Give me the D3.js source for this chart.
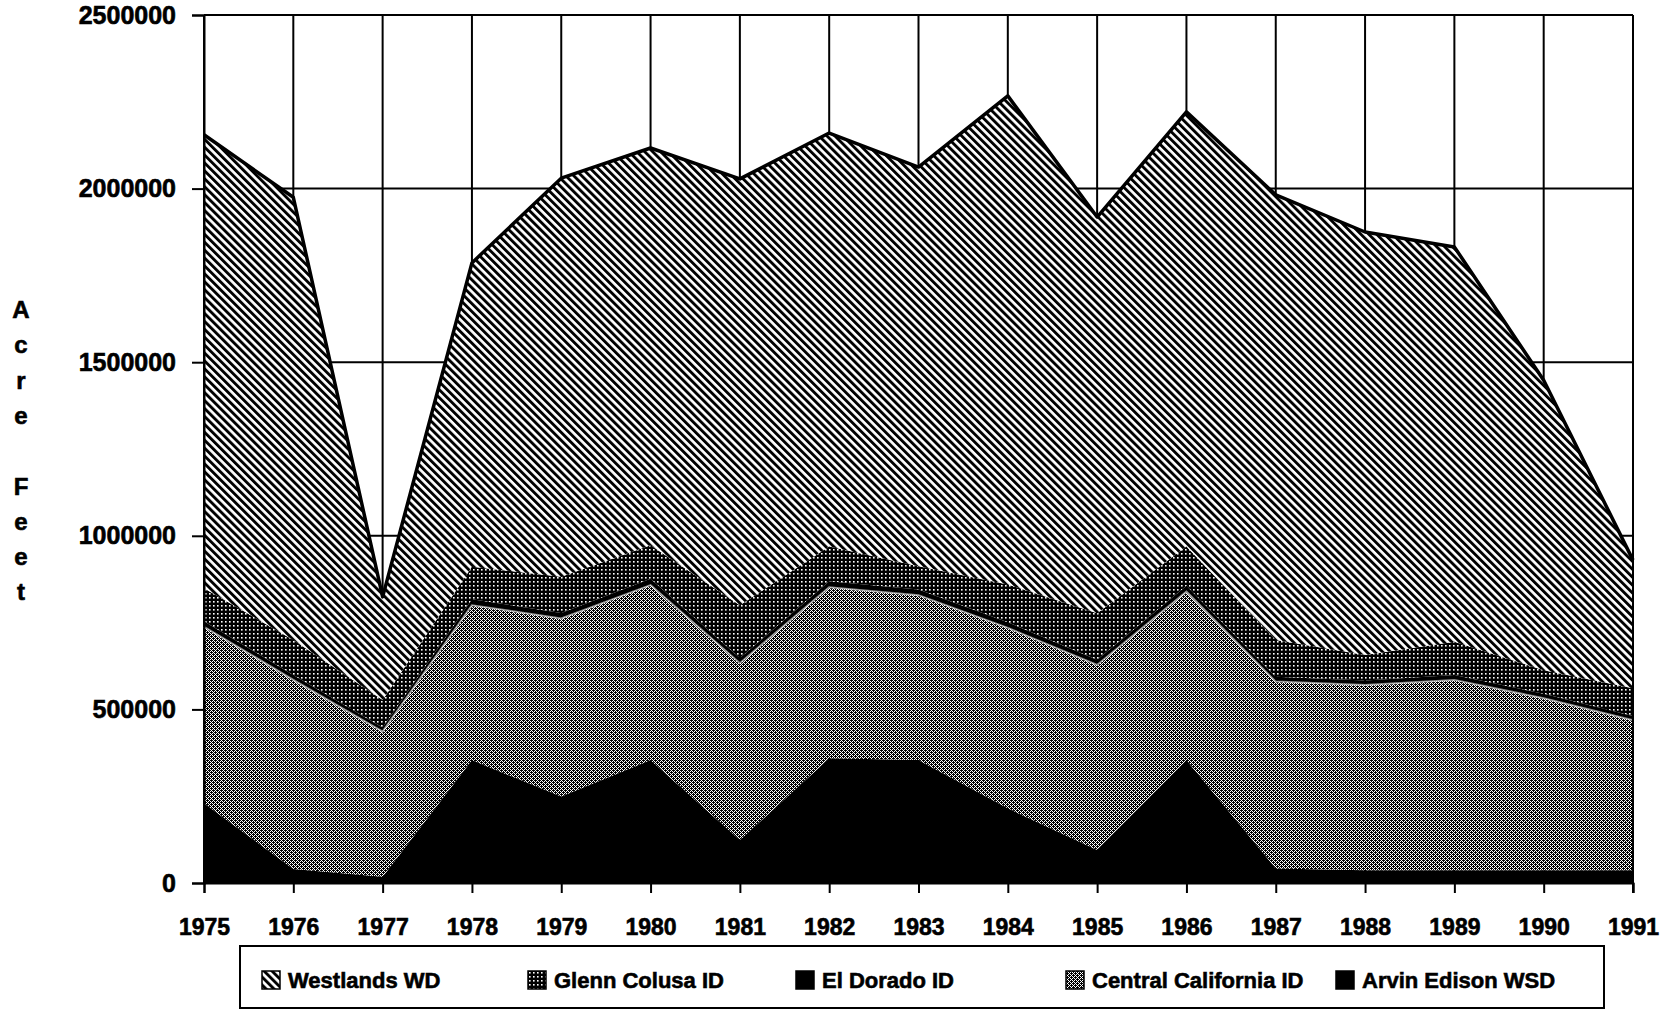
<!DOCTYPE html>
<html>
<head>
<meta charset="utf-8">
<script src="https://cdn.jsdelivr.net/npm/d3@7"></script>
<style>
  html, body { margin: 0; padding: 0; background: #fff; }
  svg { display: block; }
  text { font-family: "Liberation Sans", Arial, Helvetica, sans-serif; font-weight: 700; fill: #000; stroke: #000; stroke-width: 0.6px; }
</style>
</head>
<body>
<svg id="chart" width="1674" height="1014"></svg>
<script>
// Water deliveries (acre-feet) to five CVP districts, 1975-1991
const years = [1975, 1976, 1977, 1978, 1979, 1980, 1981, 1982, 1983, 1984, 1985, 1986, 1987, 1988, 1989, 1990, 1991];

const westlandsWD         = [1306000, 1275000, 297000, 875000, 1148000, 1144000, 1228000, 1191000, 1150000, 1407000, 1141000, 1252000, 1282000, 1218000, 1137000, 835000, 369000];
const glennColusaID       = [95000, 101000, 79000, 94000, 104000, 97000, 152000, 100000, 67000, 109000, 134000, 113000, 106000, 74000, 96000, 68000, 80000];
const elDoradoID          = [16000, 14000, 12000, 17000, 16000, 18000, 15000, 17000, 16000, 16000, 15000, 17000, 14000, 13000, 14000, 13000, 12000];
const centralCaliforniaID = [508000, 545000, 418000, 446000, 513000, 504000, 509000, 493000, 475000, 520000, 533000, 485000, 538000, 533000, 548000, 495000, 432000];
const arvinEdisonWSD      = [230000, 40000, 18000, 354000, 249000, 354000, 124000, 359000, 354000, 215000, 95000, 354000, 42000, 37000, 37000, 37000, 37000];

const yTicks = [0, 500000, 1000000, 1500000, 2000000, 2500000];
const yTitle = ["A", "c", "r", "e", "", "F", "e", "e", "t"];

// Stack order, bottom to top
const seriesKeys = ["Arvin Edison WSD", "Central California ID", "El Dorado ID", "Glenn Colusa ID", "Westlands WD"];
const seriesValues = {
  "Westlands WD": westlandsWD,
  "Glenn Colusa ID": glennColusaID,
  "El Dorado ID": elDoradoID,
  "Central California ID": centralCaliforniaID,
  "Arvin Edison WSD": arvinEdisonWSD
};
// Legend reads top layer first
const legendOrder = ["Westlands WD", "Glenn Colusa ID", "El Dorado ID", "Central California ID", "Arvin Edison WSD"];

const table = years.map((yr, i) => {
  const row = { year: yr };
  seriesKeys.forEach(k => { row[k] = seriesValues[k][i]; });
  return row;
});

const svg = d3.select("#chart");
svg.append("rect").attr("width", 1674).attr("height", 1014).attr("fill", "#fff");

const plot = { left: 204, right: 1633, top: 15, bottom: 883 };
const x = d3.scaleLinear().domain([1975, 1991]).range([plot.left, plot.right]);
const y = d3.scaleLinear().domain([0, 2500000]).range([plot.bottom, plot.top]);

// Fill patterns in the style of a monochrome print
const defs = svg.append("defs");

const hatch = defs.append("pattern").attr("id", "pat-westlands")
  .attr("patternUnits", "userSpaceOnUse").attr("width", 5.6).attr("height", 5.6)
  .attr("patternTransform", "rotate(-45)");
hatch.append("rect").attr("width", 5.6).attr("height", 5.6).attr("fill", "#fff");
hatch.append("rect").attr("width", 2.9).attr("height", 5.6).attr("fill", "#000");

const dots = defs.append("pattern").attr("id", "pat-glenn")
  .attr("patternUnits", "userSpaceOnUse").attr("width", 4).attr("height", 4);
dots.append("rect").attr("width", 4).attr("height", 4).attr("fill", "#000");
dots.append("rect").attr("x", 1).attr("y", 1).attr("width", 1.6).attr("height", 1.6).attr("fill", "#fff");

const stipple = defs.append("pattern").attr("id", "pat-central")
  .attr("patternUnits", "userSpaceOnUse").attr("width", 4).attr("height", 4);
stipple.append("rect").attr("width", 4).attr("height", 4).attr("fill", "#fff");
[[0,0],[2,0],[1,1],[3,1],[0,2],[2,2],[1,3],[3,3],[3,0],[1,2]].forEach(([px, py]) => {
  stipple.append("rect").attr("x", px).attr("y", py).attr("width", 1).attr("height", 1).attr("fill", "#000");
});

const fills = {
  "Westlands WD": "url(#pat-westlands)",
  "Glenn Colusa ID": "url(#pat-glenn)",
  "El Dorado ID": "#000",
  "Central California ID": "url(#pat-central)",
  "Arvin Edison WSD": "#000"
};

// Grid lines behind the areas
const grid = svg.append("g").attr("stroke", "#000").attr("stroke-width", 2);
grid.selectAll("line.v").data(years).join("line").attr("class", "v")
  .attr("x1", d => x(d)).attr("x2", d => x(d))
  .attr("y1", y(2500000)).attr("y2", y(0));
grid.selectAll("line.h").data(yTicks).join("line").attr("class", "h")
  .attr("x1", plot.left).attr("x2", plot.right)
  .attr("y1", d => y(d)).attr("y2", d => y(d));

// Stacked areas
const stacked = d3.stack().keys(seriesKeys)(table);
const area = d3.area()
  .x(d => x(d.data.year))
  .y0(d => y(d[0]))
  .y1(d => y(d[1]));
const topLine = d3.line().x(d => x(d.data.year)).y(d => y(d[1]));

svg.append("g").selectAll("path").data(stacked).join("path")
  .attr("d", area)
  .attr("fill", d => fills[d.key])
  .attr("stroke", "none");

// Light edge along the top of the Central California band
svg.append("path")
  .datum(stacked[1])
  .attr("d", topLine)
  .attr("fill", "none").attr("stroke", "#fff").attr("stroke-opacity", 0.55).attr("stroke-width", 2);

// Dark outline on the Westlands crest
svg.append("path")
  .datum(stacked[4])
  .attr("d", topLine)
  .attr("fill", "none").attr("stroke", "#000").attr("stroke-width", 3.5).attr("stroke-linejoin", "round");

// Axes
const yAxis = svg.append("g").attr("transform", `translate(${plot.left},0)`)
  .call(d3.axisLeft(y).tickValues(yTicks).tickSize(12).tickPadding(16).tickFormat(d3.format("d")));
yAxis.select(".domain").attr("stroke", "#000").attr("stroke-width", 2);
yAxis.selectAll(".tick line").attr("stroke", "#000").attr("stroke-width", 2);
yAxis.selectAll("text").style("font-size", "25px").attr("fill", "#000");

const xAxis = svg.append("g").attr("transform", `translate(0,${plot.bottom})`)
  .call(d3.axisBottom(x).tickValues(years).tickSize(10).tickPadding(26).tickFormat(d3.format("d")));
xAxis.select(".domain").attr("stroke", "#000").attr("stroke-width", 2);
xAxis.selectAll(".tick line").attr("stroke", "#000").attr("stroke-width", 2);
xAxis.selectAll("text").style("font-size", "23px").attr("fill", "#000");

// Right border of the plot
svg.append("line").attr("x1", plot.right).attr("x2", plot.right)
  .attr("y1", plot.top).attr("y2", plot.bottom + 10)
  .attr("stroke", "#000").attr("stroke-width", 2);

// Vertical axis title, one letter per line
svg.append("g").selectAll("text").data(yTitle).join("text")
  .attr("x", 21).attr("y", (d, i) => 318 + i * 35.3)
  .attr("text-anchor", "middle")
  .style("font-size", "24px")
  .text(d => d);

// Legend
const legend = svg.append("g");
legend.append("rect").attr("x", 240).attr("y", 946).attr("width", 1364).attr("height", 62)
  .attr("fill", "none").attr("stroke", "#000").attr("stroke-width", 2);
const legendX = [262, 528, 796, 1066, 1336];
const items = legend.selectAll("g.item").data(legendOrder).join("g").attr("class", "item")
  .attr("transform", (d, i) => `translate(${legendX[i]},971)`);
items.append("rect").attr("width", 18).attr("height", 18)
  .attr("fill", d => fills[d]).attr("stroke", "#000").attr("stroke-width", 1.5);
items.append("text").attr("x", 26).attr("y", 17)
  .style("font-size", "22px")
  .text(d => d);
</script>
</body>
</html>
